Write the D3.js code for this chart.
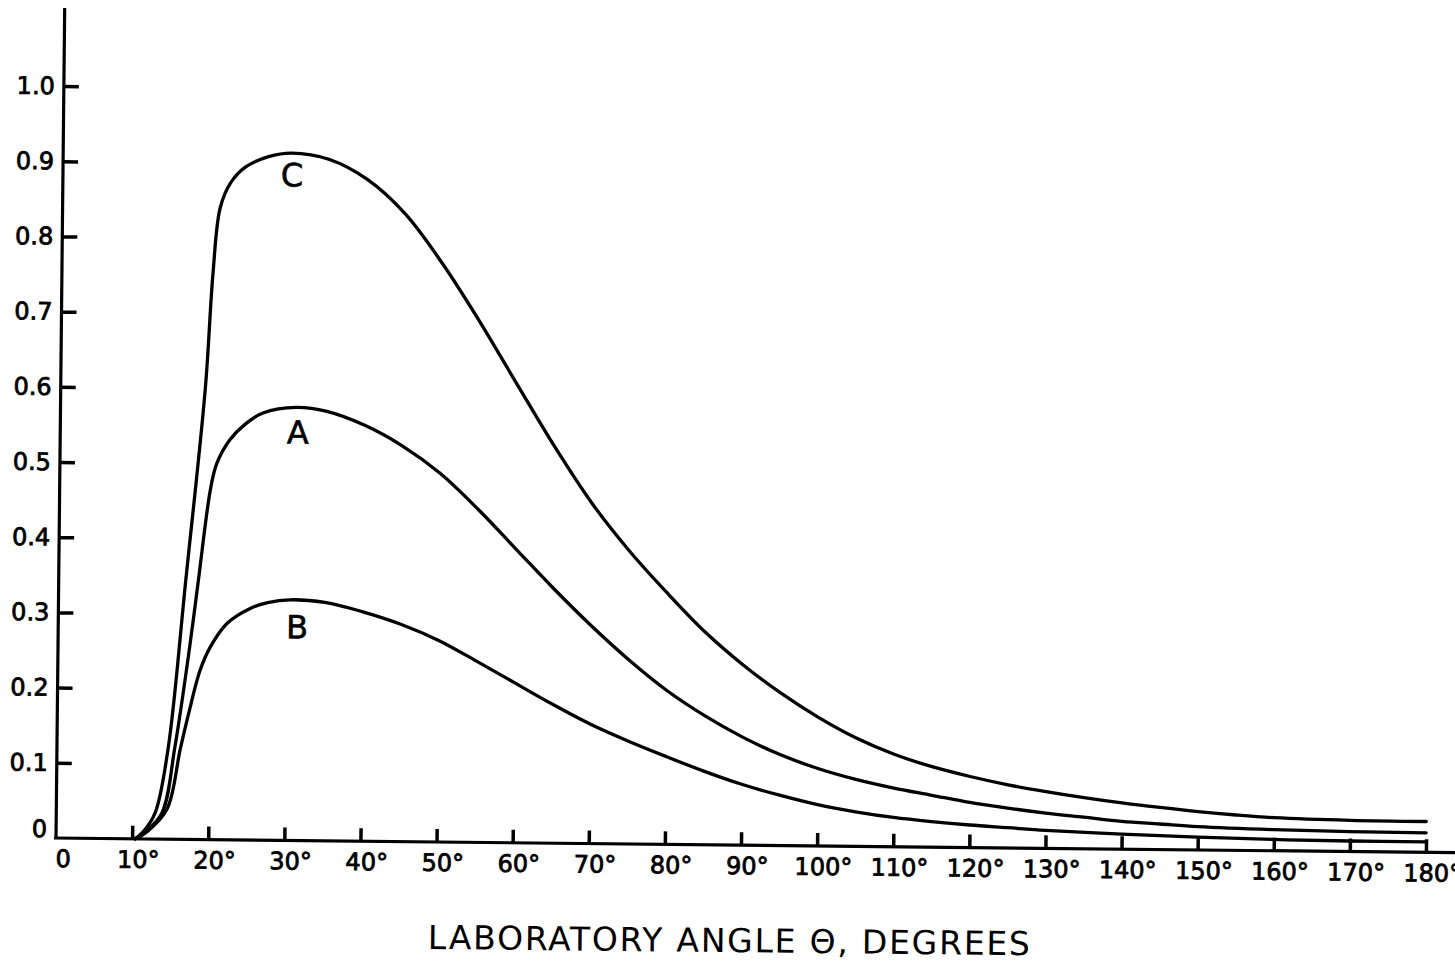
<!DOCTYPE html>
<html>
<head>
<meta charset="utf-8">
<script src="https://cdn.jsdelivr.net/npm/d3@7"></script>
<style>
  body { margin: 0; background: #fff; }
  text { font-family: "DejaVu Sans", sans-serif; fill: #000; }
</style>
</head>
<body>
<svg id="chart" width="1455" height="963"></svg>
<script>
(function(){
  // tick values
  var xTicks = [0, 10, 20, 30, 40, 50, 60, 70, 80, 90, 100, 110, 120, 130, 140, 150, 160, 170, 180];
  var yTicks = [0, 0.1, 0.2, 0.3, 0.4, 0.5, 0.6, 0.7, 0.8, 0.9, 1.0];

  // curves: [angle in degrees, value]
  var curveC = [
    [10.4, 0], [11.5, 0.01], [13.0, 0.035], [14.6, 0.12], [16.7, 0.345], [19.0, 0.60],
    [19.85, 0.753], [20.7, 0.84], [22.0, 0.873], [24, 0.895], [27, 0.909], [30, 0.914],
    [35, 0.906], [40, 0.880], [45, 0.835], [50, 0.769], [55, 0.692],
    [60, 0.609], [65, 0.527], [70, 0.452], [75, 0.389], [80, 0.334], [85, 0.283], [90, 0.240],
    [95, 0.203], [100, 0.171], [105, 0.144], [110, 0.123], [115, 0.107], [120, 0.0945],
    [125, 0.084], [130, 0.0755], [135, 0.068], [140, 0.0615], [145, 0.056], [150, 0.051],
    [155, 0.047], [160, 0.044], [170, 0.0415], [180, 0.041]
  ];
  var curveA = [
    [10.4, 0], [11.8, 0.01], [13.9, 0.035], [15.5, 0.123], [17.3, 0.256], [18.3, 0.34],
    [19.8, 0.465], [20.6, 0.50], [22.3, 0.532], [24.3, 0.553], [26.6, 0.568], [31, 0.576],
    [35, 0.571], [40, 0.553], [45, 0.526], [50, 0.490], [55, 0.443], [60, 0.391],
    [65, 0.339], [70, 0.290], [75, 0.245], [80, 0.205], [85, 0.172], [90, 0.144],
    [95, 0.121], [100, 0.103], [105, 0.089], [110, 0.078], [115, 0.069], [120, 0.060],
    [125, 0.053], [130, 0.047], [135, 0.042], [140, 0.037], [145, 0.034], [150, 0.031],
    [160, 0.028], [170, 0.0265], [180, 0.026]
  ];
  var curveB = [
    [10.4, 0], [12, 0.01], [14.55, 0.04], [16.2, 0.12], [17.2, 0.165], [18.7, 0.225],
    [20.0, 0.256], [22.2, 0.288], [25.2, 0.308], [27.5, 0.316], [30.4, 0.320], [35, 0.317],
    [40, 0.305], [45, 0.289], [50, 0.268], [55, 0.241], [60, 0.213], [65, 0.185],
    [70, 0.159], [75, 0.137], [80, 0.117], [85, 0.098], [90, 0.081], [95, 0.067],
    [100, 0.055], [105, 0.046], [110, 0.039], [115, 0.034], [120, 0.030], [125, 0.027],
    [130, 0.024], [140, 0.020], [150, 0.017], [160, 0.015], [170, 0.014], [180, 0.014]
  ];

  var curveLabels = [
    {name: 'C', angle: 30.1, value: 0.885},
    {name: 'A', angle: 31.2, value: 0.543},
    {name: 'B', angle: 31.4, value: 0.284}
  ];

  var svg = d3.select('#chart');
  svg.append('rect').attr('width', 1455).attr('height', 963).attr('fill', '#fff');

  // the scanned figure is tilted slightly
  var g = svg.append('g').attr('transform', 'translate(56,838) rotate(0.6)');

  var x = d3.scaleLinear().domain([0, 180]).range([0, 1370]);
  var y = d3.scaleLinear().domain([0, 1]).range([0, -752]);

  // x axis
  var xAxis = g.append('g')
    .call(d3.axisBottom(x)
      .tickValues(xTicks)
      .tickSizeInner(-13)
      .tickSizeOuter(0)
      .tickPadding(12)
      .tickFormat(function(d) { return d === 0 ? '0' : d + '\u00b0'; }));
  xAxis.select('.domain').remove();
  xAxis.selectAll('.tick line').attr('stroke', '#000').attr('stroke-width', 3.5)
    .filter(function(d) { return d === 0; }).remove();
  xAxis.selectAll('.tick text')
    .attr('font-size', 24)
    .attr('font-family', '"DejaVu Sans", sans-serif')
    .attr('stroke', '#000').attr('stroke-width', 0.8)
    .attr('dx', function(d) { return d === 0 ? 7 : 6; });

  // y axis
  var yAxis = g.append('g')
    .call(d3.axisLeft(y)
      .tickValues(yTicks)
      .tickSizeInner(-15)
      .tickSizeOuter(0)
      .tickPadding(9)
      .tickFormat(function(d) { return d === 0 ? '0' : d.toFixed(1); }));
  yAxis.select('.domain').remove();
  yAxis.selectAll('.tick line').attr('stroke', '#000').attr('stroke-width', 3.5)
    .filter(function(d) { return d === 0; }).remove();
  yAxis.selectAll('.tick text')
    .attr('font-size', 24)
    .attr('font-family', '"DejaVu Sans", sans-serif')
    .attr('stroke', '#000').attr('stroke-width', 0.8)
    .attr('y', function(d) { return d === 0 ? -9 : 0; });

  // axis lines
  g.append('line').attr('x1', -2).attr('x2', 1420).attr('y1', 0).attr('y2', 0)
    .attr('stroke', '#000').attr('stroke-width', 3.2);
  g.append('line').attr('x1', 0).attr('x2', 0).attr('y1', 1).attr('y2', -830)
    .attr('stroke', '#000').attr('stroke-width', 3.2);

  // curves
  var line = d3.line()
    .x(function(d) { return x(d[0]); })
    .y(function(d) { return y(d[1]); })
    .curve(d3.curveCatmullRom.alpha(0.5));

  g.selectAll('path.curve')
    .data([curveC, curveA, curveB])
    .enter()
    .append('path')
    .attr('class', 'curve')
    .attr('d', line)
    .attr('fill', 'none')
    .attr('stroke', '#000')
    .attr('stroke-width', 3.3)
    .attr('stroke-linejoin', 'round')
    .attr('stroke-linecap', 'round');

  g.selectAll('text.curve-label')
    .data(curveLabels)
    .enter()
    .append('text')
    .attr('class', 'curve-label')
    .attr('x', function(d) { return x(d.angle); })
    .attr('y', function(d) { return y(d.value); })
    .attr('dy', '0.36em')
    .attr('text-anchor', 'middle')
    .attr('font-size', 32)
    .attr('stroke', '#000').attr('stroke-width', 0.6)
    .text(function(d) { return d.name; });

  // axis title
  g.append('text')
    .attr('x', 674)
    .attr('y', 107)
    .attr('text-anchor', 'middle')
    .attr('font-size', 33)
    .attr('textLength', 602)
    .attr('lengthAdjust', 'spacing')
    .text('LABORATORY  ANGLE  \u0398, DEGREES');
})();
</script>
</body>
</html>
